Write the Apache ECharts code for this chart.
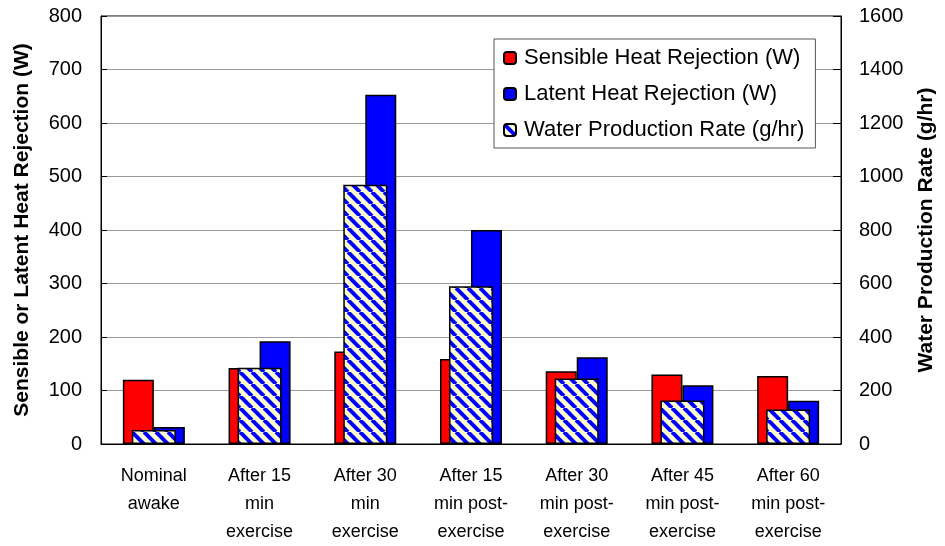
<!DOCTYPE html>
<html>
<head>
<meta charset="utf-8">
<script src="https://cdn.jsdelivr.net/npm/echarts@6/dist/echarts.min.js"></script>
<style>html,body{margin:0;padding:0;background:#fff;}#c{width:945px;height:546px;}</style>
</head>
<body>
<div id="c"></div>
<script>
const categories = ['Nominal\nawake', 'After 15\nmin\nexercise', 'After 30\nmin\nexercise', 'After 15\nmin post-\nexercise', 'After 30\nmin post-\nexercise', 'After 45\nmin post-\nexercise', 'After 60\nmin post-\nexercise'];
const sensible = [120, 142, 173, 159, 136, 130, 127];
const latent = [32, 192, 653, 400, 162, 110, 81];
const water = [52, 285, 969, 590, 245, 163, 129];
const leftTicks = [0, 800, 100];
const rightTicks = [0, 1600, 200];

function hatch() {
  const s = 12;
  const c = document.createElement('canvas');
  c.width = s; c.height = s;
  const g = c.getContext('2d');
  g.fillStyle = '#FFFFCC';
  g.fillRect(0, 0, s, s);
  g.strokeStyle = '#0000FF';
  g.lineWidth = 4;
  for (let k = -1; k <= 1; k++) {
    g.beginPath();
    g.moveTo(k * s, 0);
    g.lineTo(k * s + s, s);
    g.stroke();
  }
  return c;
}

const chart = echarts.init(document.getElementById('c'));
const font = "'Liberation Sans', Arial, sans-serif";
chart.setOption({
  animation: false,
  grid: {left: 101, right: 101, top: 16, bottom: 100, show: true, borderColor: '#000', borderWidth: 1},
  legend: {
    left: 494, top: 39, orient: 'vertical',
    backgroundColor: '#fff', borderColor: '#555', borderWidth: 1,
    padding: [6, 11, 5, 9], itemWidth: 12, itemHeight: 12, itemGap: 10,
    textStyle: {fontFamily: font, fontSize: 22, color: '#000', lineHeight: 26, padding: [0, 0, 0, 3]},
    data: ['Sensible Heat Rejection (W)', 'Latent Heat Rejection (W)', 'Water Production Rate (g/hr)']
  },
  xAxis: [{
    type: 'category', data: categories,
    axisLine: {lineStyle: {color: '#000', width: 1}},
    axisTick: {inside: true, length: 6, lineStyle: {color: '#333'}},
    axisLabel: {fontFamily: font, fontSize: 18, color: '#000', lineHeight: 28, margin: 18, interval: 0}
  }, {
    type: 'category', data: categories, show: false
  }],
  yAxis: [{
    type: 'value', min: leftTicks[0], max: leftTicks[1], interval: leftTicks[2],
    name: 'Sensible or Latent Heat Rejection (W)', nameLocation: 'middle', nameRotate: 90, nameGap: 68,
    nameTextStyle: {fontFamily: font, fontSize: 21, fontWeight: 'bold', color: '#000'},
    axisLine: {show: true, lineStyle: {color: '#000'}},
    axisTick: {show: true, inside: true, length: 6, lineStyle: {color: '#000'}},
    axisLabel: {fontFamily: font, fontSize: 20, color: '#000', margin: 19},
    splitLine: {lineStyle: {color: '#999', width: 1}}
  }, {
    type: 'value', min: rightTicks[0], max: rightTicks[1], interval: rightTicks[2], position: 'right',
    name: 'Water Production Rate (g/hr)', nameLocation: 'middle', nameRotate: 90, nameGap: 75,
    nameTextStyle: {fontFamily: font, fontSize: 21, fontWeight: 'bold', color: '#000'},
    axisLine: {show: true, lineStyle: {color: '#000'}},
    axisTick: {show: true, inside: true, length: 8, lineStyle: {color: '#000'}},
    axisLabel: {fontFamily: font, fontSize: 20, color: '#000', margin: 18, formatter: v => String(v)},
    splitLine: {show: false}
  }],
  series: [{
    name: 'Sensible Heat Rejection (W)', type: 'bar', data: sensible, xAxisIndex: 0, yAxisIndex: 0,
    barWidth: 31, barGap: '0%', z: 2,
    itemStyle: {color: '#FF0000', borderColor: '#000', borderWidth: 1.5}
  }, {
    name: 'Latent Heat Rejection (W)', type: 'bar', data: latent, xAxisIndex: 0, yAxisIndex: 0,
    barWidth: 31, barGap: '0%', z: 2,
    itemStyle: {color: '#0000FF', borderColor: '#000', borderWidth: 1.5}
  }, {
    name: 'Water Production Rate (g/hr)', type: 'bar', data: water, xAxisIndex: 1, yAxisIndex: 1,
    barWidth: 44, z: 3,
    itemStyle: {color: {image: hatch(), repeat: 'repeat'}, borderColor: '#000', borderWidth: 1.5}
  }]
});
</script>
</body>
</html>
